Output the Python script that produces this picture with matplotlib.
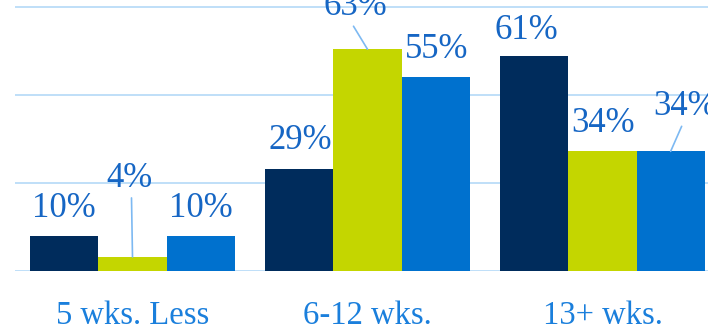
import numpy as np
import matplotlib
matplotlib.use("Agg")
import matplotlib.pyplot as plt

categories = ["5 wks. Less", "6-12 wks.", "13+ wks."]
series_a = [10, 29, 61]
series_b = [4, 63, 34]
series_c = [10, 55, 34]

DARK = "#002C5C"
LIME = "#C4D600"
BLUE = "#0071CE"
GRID = "#BFDFF8"
LABEL = "#1666C4"
CAT = "#1A7FDC"
LEADER = "#7DB9F2"

W, H = 708, 327
fig = plt.figure(figsize=(W / 100, H / 100), dpi=100)
ax = fig.add_axes([15 / W, 56 / H, 705 / W, 271 / H])

x = np.arange(len(categories))
bw = 0.29
series = [series_a, series_b, series_c]
colors = [DARK, LIME, BLUE]

# label offsets in pixels (dx, dy) from bar top centre; leader line start or None
label_pos = {
    (0, 0): (0, 27, None), (0, 1): (-3, 78, (-1, 59)), (0, 2): (0, 27, None),
    (1, 0): (1, 28, None), (1, 1): (-12, 43, (-14, 23)), (1, 2): (1, 28, None),
    (2, 0): (-8, 26, None), (2, 1): (1, 28, None), (2, 2): (14, 45, (11, 25)),
}

for j, (vals, col) in enumerate(zip(series, colors)):
    xs = x + (j - 1) * bw
    ax.bar(xs, vals, width=bw, color=col, zorder=3, linewidth=0)
    for i, (xi, v) in enumerate(zip(xs, vals)):
        dx, dy, lead = label_pos[(i, j)]
        ax.annotate(f"{v}%", xy=(xi, v), xytext=(dx, dy),
                    textcoords="offset pixels", ha="center", va="center",
                    fontsize=25, family="Liberation Serif", color=LABEL,
                    zorder=5)
        if lead is not None:
            ax.annotate("", xy=(xi, v), xytext=lead, textcoords="offset pixels",
                        arrowprops=dict(arrowstyle="-", color=LEADER, lw=1.2,
                                        shrinkA=0, shrinkB=0), zorder=4)

ax.set_xlim(-0.5, 2.5)
ax.set_ylim(0, 271 / 3.52)
ax.set_yticks([0, 25, 50, 75])
ax.yaxis.grid(True, color=GRID, linewidth=1.4, zorder=0)
ax.tick_params(left=False, labelleft=False, bottom=False)
ax.set_xticks(x)
ax.set_xticklabels(categories, fontsize=23.5, family="Liberation Serif", color=CAT)
ax.tick_params(axis="x", pad=18)
for s in ax.spines.values():
    s.set_visible(False)

fig.savefig("out.png", dpi=100, facecolor="white")
